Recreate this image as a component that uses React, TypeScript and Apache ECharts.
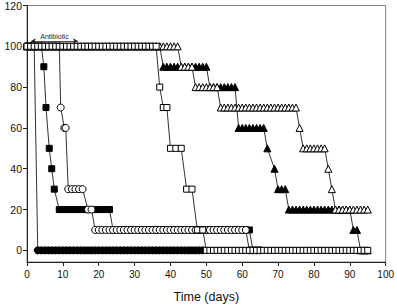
import React, { useEffect, useRef } from "react";
import * as echarts from "echarts";

// Survival (%) vs time (days); each pair is [day, percent]
const filledCircle = [[0,100],[1,100],[2,100],[3,0],[4,0],[5,0],[6,0],[7,0],[8,0],[9,0],[10,0],[11,0],[12,0],[13,0],[14,0],[15,0],[16,0],[17,0],[18,0],[19,0],[20,0],[21,0],[22,0],[23,0],[24,0],[25,0],[26,0],[27,0],[28,0],[29,0],[30,0],[31,0],[32,0],[33,0],[34,0],[35,0],[36,0],[37,0],[38,0],[39,0],[40,0],[41,0],[42,0],[43,0],[44,0],[45,0],[46,0],[47,0],[48,0],[49,0]];

const filledSquare = [[0,100],[1,100],[2,100],[3,100],[4,100],[4.7,90],[5.3,70],[6.2,50],[6.9,40],[7.6,30],[9,20],[10,20],[11,20],[12,20],[13,20],[14,20],[15,20],[16,20],[17,20],[18,20],[19,20],[20,20],[21,20],[22,20],[23,20],[24,10],[25,10],[26,10],[27,10],[28,10],[29,10],[30,10],[31,10],[32,10],[33,10],[34,10],[35,10],[36,10],[37,10],[38,10],[39,10],[40,10],[41,10],[42,10],[43,10],[44,10],[45,10],[46,10],[47,10],[48,10],[49,10],[50,10],[51,10],[52,10],[53,10],[54,10],[55,10],[56,10],[57,10],[58,10],[59,10],[60,10],[61,10],[62,10],[63,0],[64,0],[65,0]];

const openCircle = [[0,100],[1,100],[2,100],[3,100],[4,100],[5,100],[6,100],[7,100],[8,100],[9,100],[9.4,70],[10.4,60],[10.8,60],[11.5,30],[12.5,30],[13.5,30],[14.5,30],[15.5,30],[17,20],[18,20],[19,10],[20,10],[21,10],[22,10],[23,10],[24,10],[25,10],[26,10],[27,10],[28,10],[29,10],[30,10],[31,10],[32,10],[33,10],[34,10],[35,10],[36,10],[37,10],[38,10],[39,10],[40,10],[41,10],[42,10],[43,10],[44,10],[45,10],[46,10],[47,10],[48,10],[49,10],[50,10],[51,10],[52,10],[53,10],[54,10],[55,10],[56,10],[57,10],[58,10],[59,10],[60,10],[61,10],[62,0],[63,0],[64,0],[65,0]];

const filledTriangle = [[0,100],[1,100],[2,100],[3,100],[4,100],[5,100],[6,100],[7,100],[8,100],[9,100],[10,100],[11,100],[12,100],[13,100],[14,100],[15,100],[16,100],[17,100],[18,100],[19,100],[20,100],[21,100],[22,100],[23,100],[24,100],[25,100],[26,100],[27,100],[28,100],[29,100],[30,100],[31,100],[32,100],[33,100],[34,100],[35,100],[36,100],[37,100],[38,90],[39,90],[40,90],[41,90],[42,90],[43,90],[44,90],[45,90],[46,90],[47,90],[48,90],[49,90],[50,90],[51,80],[52,80],[53,80],[54,80],[55,80],[56,80],[57,80],[58,80],[59,60],[60,60],[61,60],[62,60],[63,60],[64,60],[65,60],[66,60],[67,50],[69,40],[70,30],[71,30],[72,30],[73,20],[74,20],[75,20],[76,20],[77,20],[78,20],[79,20],[80,20],[81,20],[82,20],[83,20],[84,20],[85,20],[86,20],[87,20],[88,20],[89,20],[90,20],[91,10],[92,10],[93,0],[94,0],[95,0]];

const openTriangle = [[0,100],[1,100],[2,100],[3,100],[4,100],[5,100],[6,100],[7,100],[8,100],[9,100],[10,100],[11,100],[12,100],[13,100],[14,100],[15,100],[16,100],[17,100],[18,100],[19,100],[20,100],[21,100],[22,100],[23,100],[24,100],[25,100],[26,100],[27,100],[28,100],[29,100],[30,100],[31,100],[32,100],[33,100],[34,100],[35,100],[36,100],[37,100],[38,100],[39,100],[40,100],[41,100],[42,100],[43,90],[44,90],[45,90],[46,90],[47,80],[48,80],[49,80],[50,80],[51,80],[52,80],[53,80],[54,70],[55,70],[56,70],[57,70],[58,70],[59,70],[60,70],[61,70],[62,70],[63,70],[64,70],[65,70],[66,70],[67,70],[68,70],[69,70],[70,70],[71,70],[72,70],[73,70],[74,70],[75,70],[76,60],[77,50],[78,50],[79,50],[80,50],[81,50],[82,50],[83,50],[84,40],[85,30],[86,20],[87,20],[88,20],[89,20],[90,20],[91,20],[92,20],[93,20],[94,20],[95,20]];

const openSquare = [[0,100],[1,100],[2,100],[3,100],[4,100],[5,100],[6,100],[7,100],[8,100],[9,100],[10,100],[11,100],[12,100],[13,100],[14,100],[15,100],[16,100],[17,100],[18,100],[19,100],[20,100],[21,100],[22,100],[23,100],[24,100],[25,100],[26,100],[27,100],[28,100],[29,100],[30,100],[31,100],[32,100],[33,100],[34,100],[35,100],[36,100],[37,80],[38,70],[39,70],[40,50],[41.5,50],[43,50],[44.5,30],[46,30],[47.5,10],[49,10],[50,0],[51,0],[52,0],[53,0],[54,0],[55,0],[56,0],[57,0],[58,0],[59,0],[60,0],[61,0],[62,0],[63,0],[64,0],[65,0],[66,0],[67,0],[68,0],[69,0],[70,0],[71,0],[72,0],[73,0],[74,0],[75,0],[76,0],[77,0],[78,0],[79,0],[80,0],[81,0],[82,0],[83,0],[84,0],[85,0],[86,0],[87,0],[88,0],[89,0],[90,0],[91,0],[92,0],[93,0],[94,0],[95,0]];

const yTickValues = [0, 20, 40, 60, 80, 100, 120];
const antibioticStart = [1.1, 102.6];
const antibioticEnd = [14.2, 102.6];
const antibioticLabel = "Antibiotic";
const xTitle = "Time (days)";

const FONT = "'Liberation Sans', Arial, sans-serif";

function makeSeries(name: string, data: number[][], symbol: string, size: number, filled: boolean, extra: any = {}) {
  return {
    name,
    type: "line",
    data,
    symbol,
    symbolSize: size,
    showAllSymbol: true,
    lineStyle: { color: "#333", width: 1 },
    itemStyle: { color: filled ? "#000" : "#fff", borderColor: "#000", borderWidth: 1 },
    emphasis: { disabled: true },
    silent: true,
    ...extra,
  };
}

export default function App() {
  const ref = useRef<HTMLDivElement>(null);
  useEffect(() => {
    document.body.style.margin = "0";
    if (!ref.current) return;
    const chart = echarts.init(ref.current, null, { renderer: "svg" });
    chart.setOption({
      animation: false,
      backgroundColor: "#fff",
      grid: {
        left: 27,
        right: 10,
        top: 5,
        bottom: 43,
        show: true,
        borderColor: "#808080",
        borderWidth: 1,
      },
      xAxis: {
        type: "value",
        min: 0,
        max: 100,
        interval: 10,
        name: xTitle,
        nameLocation: "middle",
        nameGap: 28,
        nameTextStyle: { fontFamily: FONT, fontSize: 12.5, color: "#111" },
        axisLine: { show: true, onZero: false, lineStyle: { color: "#222", width: 1 } },
        axisTick: { show: true, length: 4, lineStyle: { color: "#222" } },
        axisLabel: { fontFamily: FONT, fontSize: 10, color: "#111", margin: 7 },
        splitLine: { show: false },
      },
      yAxis: {
        type: "value",
        min: -5.7,
        max: 120,
        axisLine: { show: true, onZero: false, lineStyle: { color: "#222", width: 1 } },
        axisTick: { show: true, length: 4, customValues: yTickValues, lineStyle: { color: "#222" } },
        axisLabel: { fontFamily: FONT, fontSize: 10.5, color: "#111", margin: 5, customValues: yTickValues },
        splitLine: { show: false },
      },
      series: [
        makeSeries("filledCircle", filledCircle, "circle", 7, true, {
          markLine: {
            silent: true,
            symbol: ["arrow", "arrow"],
            symbolSize: [4, 5],
            lineStyle: { color: "#222", width: 0.8, type: "solid" },
            label: {
              show: true,
              position: "middle",
              formatter: antibioticLabel,
              fontFamily: FONT,
              fontSize: 7,
              color: "#222",
              distance: 1,
            },
            data: [[{ coord: antibioticStart }, { coord: antibioticEnd }]],
          },
        }),
        makeSeries("filledSquare", filledSquare, "rect", 6, true),
        makeSeries("openCircle", openCircle, "circle", 7, false),
        makeSeries("filledTriangle", filledTriangle, "triangle", 7, true),
        makeSeries("openTriangle", openTriangle, "triangle", 7, false),
        makeSeries("openSquare", openSquare, "rect", 6, false),
      ],
    });
    return () => chart.dispose();
  }, []);
  return <div ref={ref} style={{ width: 397, height: 308 }} />;
}
